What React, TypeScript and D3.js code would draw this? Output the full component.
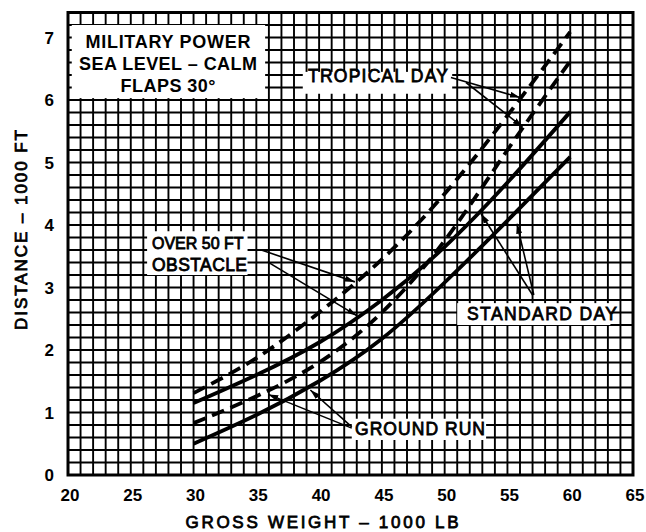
import React, { useEffect, useRef } from "react";
import * as d3 from "d3";

// gross weight, 1000 lb
const weights = [30, 35, 40, 45, 50, 55, 60];
// distance, 1000 ft
const standardGroundRun = [0.5, 0.96, 1.5, 2.18, 3.08, 4.07, 5.09];
const standardOver50 = [1.15, 1.6, 2.12, 2.8, 3.65, 4.68, 5.81];
const tropicalGroundRun = [0.83, 1.26, 1.8, 2.6, 3.75, 5.2, 6.62];
const tropicalOver50 = [1.31, 1.87, 2.6, 3.45, 4.5, 5.75, 7.09];

const xTicks = [20, 25, 30, 35, 40, 45, 50, 55, 60, 65];
const yTicks = [0, 1, 2, 3, 4, 5, 6, 7];

const titleLines = ["MILITARY POWER", "SEA LEVEL \u2013 CALM", "FLAPS 30\u00b0"];

const W = 646;
const H = 532;
const font = "'Liberation Sans', Arial, Helvetica, sans-serif";

const App = () => {
    const ref = useRef<SVGSVGElement>(null);

    useEffect(() => {
        const svg = d3.select(ref.current);
        svg.selectAll("*").remove();

        const x = d3.scaleLinear().domain([20, 65]).range([68, 633]);
        const y = d3.scaleLinear().domain([0, 7.4]).range([475, 12.5]);

        svg.append("rect").attr("width", W).attr("height", H).attr("fill", "#fff");

        const defs = svg.append("defs");
        defs.append("marker")
            .attr("id", "arrow")
            .attr("viewBox", "0 0 10 6")
            .attr("refX", 10)
            .attr("refY", 3)
            .attr("markerWidth", 10)
            .attr("markerHeight", 6)
            .attr("markerUnits", "userSpaceOnUse")
            .attr("orient", "auto")
            .append("path")
            .attr("d", "M0,0 L10,3 L0,6 Z")
            .attr("fill", "#000");

        // grid
        const grid = svg.append("g").attr("stroke", "#000").attr("stroke-width", 1.9);
        grid.selectAll("line.v")
            .data(d3.range(20, 65.5, 1))
            .enter()
            .append("line")
            .attr("x1", d => x(d))
            .attr("x2", d => x(d))
            .attr("y1", y(0))
            .attr("y2", y(7.4));
        grid.selectAll("line.h")
            .data(d3.range(0, 37.5, 1).map(i => i * 0.2))
            .enter()
            .append("line")
            .attr("x1", x(20))
            .attr("x2", x(65))
            .attr("y1", d => y(d))
            .attr("y2", d => y(d));

        // white label boxes
        const boxes = [
            [20.3, 7.2, 35.7, 6.03],
            [38.7, 6.45, 50.6, 6.1],
            [26.3, 3.9, 34.3, 3.2],
            [51.0, 2.75, 63.2, 2.4],
            [42.6, 0.9, 53.3, 0.56],
        ];
        svg.selectAll("rect.box")
            .data(boxes)
            .enter()
            .append("rect")
            .attr("x", d => x(d[0]))
            .attr("y", d => y(d[1]))
            .attr("width", d => x(d[2]) - x(d[0]))
            .attr("height", d => y(d[3]) - y(d[1]))
            .attr("fill", "#fff");

        // frame
        svg.append("rect")
            .attr("x", x(20))
            .attr("y", y(7.4))
            .attr("width", x(65) - x(20))
            .attr("height", y(0) - y(7.4))
            .attr("fill", "none")
            .attr("stroke", "#000")
            .attr("stroke-width", 3);

        // curves
        const line = d3.line<number>()
            .x((d, i) => x(weights[i]))
            .y(d => y(d))
            .curve(d3.curveNatural);
        const series = [
            { values: standardGroundRun, dash: null },
            { values: standardOver50, dash: null },
            { values: tropicalGroundRun, dash: "13,7" },
            { values: tropicalOver50, dash: "13,7" },
        ];
        series.forEach(s => {
            svg.append("path")
                .attr("d", line(s.values))
                .attr("fill", "none")
                .attr("stroke", "#000")
                .attr("stroke-width", 3.8)
                .attr("stroke-dasharray", s.dash);
        });

        // leader arrows [x1, y1, x2, y2] in data units
        const arrows = [
            [50.5, 6.36, 56.0, 6.04],
            [51.7, 6.28, 56.2, 5.57],
            [35.4, 3.6, 42.85, 3.09],
            [35.9, 3.41, 43.0, 2.55],
            [57.0, 2.88, 52.9, 4.18],
            [57.1, 2.88, 55.75, 4.02],
            [42.6, 0.75, 35.95, 1.29],
            [42.6, 0.77, 39.3, 1.36],
        ];
        svg.selectAll("line.arrow")
            .data(arrows)
            .enter()
            .append("line")
            .attr("x1", d => x(d[0]))
            .attr("y1", d => y(d[1]))
            .attr("x2", d => x(d[2]))
            .attr("y2", d => y(d[3]))
            .attr("stroke", "#000")
            .attr("stroke-width", 1.6)
            .attr("marker-end", "url(#arrow)");

        // title box text
        const titleLen = [165, 178, 95];
        titleLines.forEach((t, i) => {
            svg.append("text")
                .text(t)
                .attr("x", 168)
                .attr("y", 48 + i * 22)
                .attr("text-anchor", "middle")
                .attr("textLength", titleLen[i])
                .style("font-family", font)
                .style("font-weight", "bold")
                .style("font-size", "18px");
        });

        // curve labels
        const labels = [
            { t: "TROPICAL DAY", x: 308, y: 82, len: 140, size: 17.5 },
            { t: "OVER 50 FT", x: 152, y: 249, len: null, size: 16 },
            { t: "OBSTACLE", x: 152, y: 271, len: 95, size: 17.5 },
            { t: "STANDARD DAY", x: 467, y: 320, len: 150, size: 17.5 },
            { t: "GROUND RUN", x: 355, y: 435, len: 130, size: 17.5 },
        ];
        labels.forEach(l => {
            svg.append("text")
                .text(l.t)
                .attr("x", l.x)
                .attr("y", l.y)
                .attr("textLength", l.len)
                .style("font-family", font)
                .style("font-size", l.size + "px")
                .attr("stroke", "#000")
                .attr("stroke-width", 0.8);
        });

        // tick labels
        svg.selectAll("text.xt")
            .data(xTicks)
            .enter()
            .append("text")
            .text(d => d)
            .attr("x", d => x(d) + 2)
            .attr("y", 501)
            .attr("text-anchor", "middle")
            .style("font-family", font)
            .style("font-weight", "bold")
            .style("font-size", "17px");
        svg.selectAll("text.yt")
            .data(yTicks)
            .enter()
            .append("text")
            .text(d => d)
            .attr("x", 54)
            .attr("y", d => y(d) + 6)
            .attr("text-anchor", "end")
            .style("font-family", font)
            .style("font-weight", "bold")
            .style("font-size", "17px");

        // axis titles
        svg.append("text")
            .text("GROSS WEIGHT \u2013 1000 LB")
            .attr("x", 322)
            .attr("y", 528)
            .attr("text-anchor", "middle")
            .attr("textLength", 273)
            .style("font-family", font)
            .style("font-size", "17px")
            .attr("stroke", "#000")
            .attr("stroke-width", 0.8);
        svg.append("text")
            .text("DISTANCE \u2013 1000 FT")
            .attr("transform", "translate(27,230) rotate(-90)")
            .attr("text-anchor", "middle")
            .attr("textLength", 200)
            .style("font-family", font)
            .style("font-size", "17px")
            .attr("stroke", "#000")
            .attr("stroke-width", 0.8);
    }, []);

    return (
        <svg
            ref={ref}
            width={W}
            height={H}
            style={{ position: "absolute", left: 0, top: 0, display: "block" }}
        />
    );
};

export default App;
